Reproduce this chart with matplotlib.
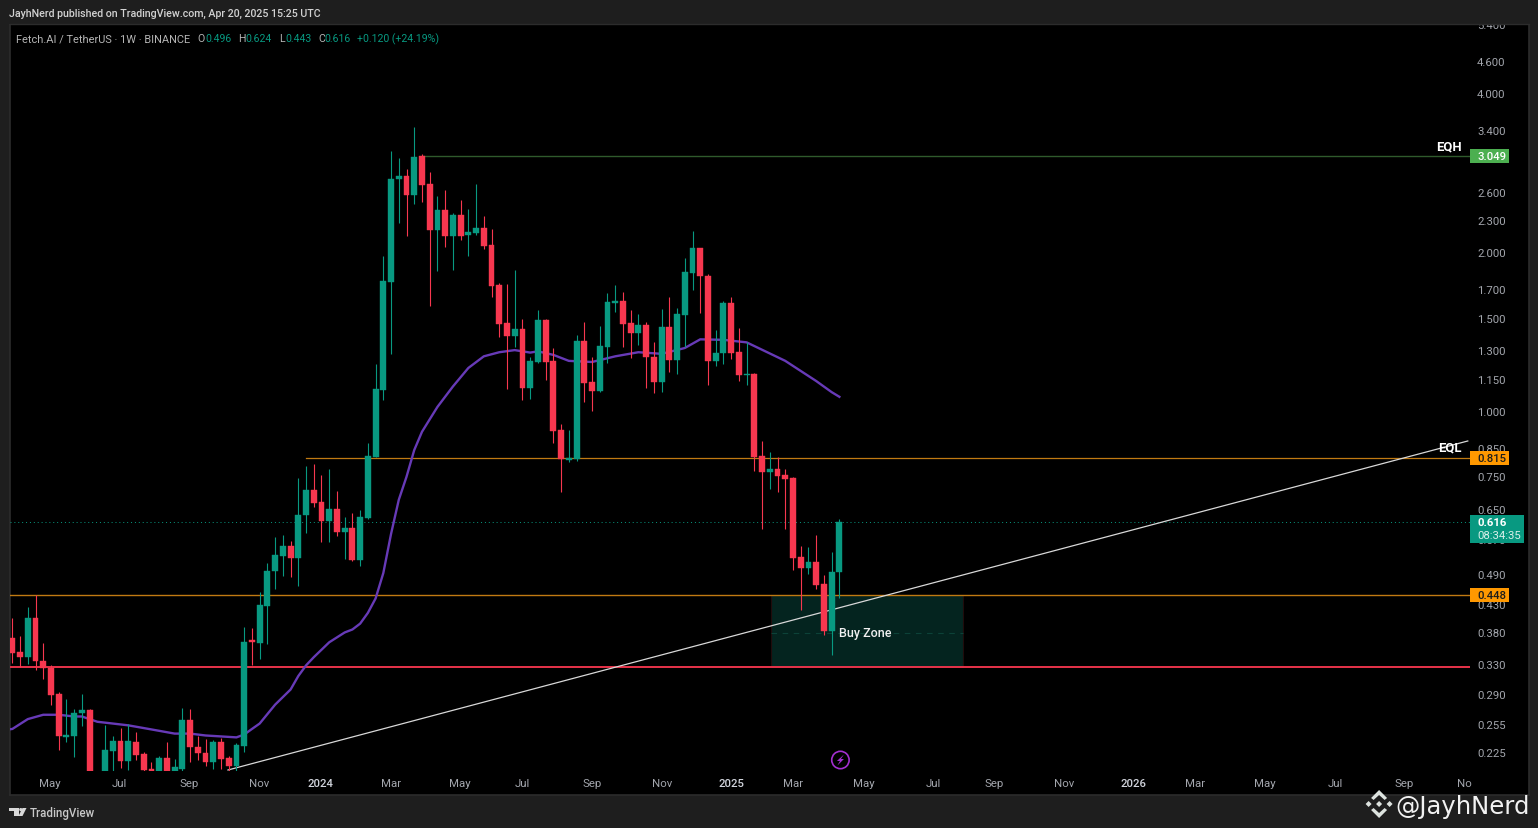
#!/usr/bin/env python3
"""Fetch.AI / TetherUS weekly chart, TradingView look."""

import matplotlib
matplotlib.use("Agg")
import matplotlib.pyplot as plt
from matplotlib.patches import Rectangle, Polygon, Circle
from matplotlib.ticker import NullLocator

plt.rcParams["font.family"] = ["Roboto", "DejaVu Sans"]

W, H = 1538, 828
BG = "#1e1e1e"
VERDE = "#089981"
VERMELHO = "#f7374f"
ROXO = "#673ab7"
CINZA = "#a3a6ad"

# weekly candles, oldest first
OPEN = [.372, .350, .343, .406, .336, .326, .291, .241, .242, .268,
        .272, .203, .204, .227, .237, .217, .236, .224, .210, .205,
        .220, .205, .210, .260, .231, .225, .216, .236, .220, .213,
        .232, .368, .364, .428, .499, .531, .556, .528, .635, .710,
        .674, .620, .654, .591, .601, .523, .628, .820, 1.098, 1.762,
        2.753, 2.800, 2.574, 3.049, 2.700, 2.212, 2.411, 2.152, 2.354, 2.161,
        2.184, 2.229, 2.071, 1.740, 1.470, 1.392, 1.432, 1.108, 1.241, 1.489,
        1.247, .922, .810, .812, 1.361, 1.137, 1.093, 1.326, 1.605, 1.617,
        1.472, 1.408, 1.458, 1.269, 1.137, 1.443, 1.252, 1.526, 1.830, 2.044,
        1.808, 1.247, 1.291, 1.605, 1.297, 1.170, 1.175, .823, .768, .779,
        .758, .748, .530, .505, .518, .470, .384, .496]
HIGH = [.405, .375, .426, .448, .364, .330, .294, .285, .273, .291,
        .273, .205, .254, .242, .251, .256, .247, .226, .216, .222,
        .236, .219, .274, .273, .242, .239, .238, .240, .222, .235,
        .390, .388, .454, .516, .579, .584, .568, .748, .789, .796,
        .758, .778, .707, .631, .642, .651, .872, 1.230, 1.972, 3.119,
        3.025, 2.880, 3.460, 3.078, 2.846, 2.563, 2.631, 2.383, 2.518, 2.421,
        2.703, 2.346, 2.219, 1.751, 1.745, 1.855, 1.495, 1.266, 1.556, 1.495,
        1.318, .946, .922, 1.396, 1.476, 1.266, 1.449, 1.676, 1.737, 1.683,
        1.558, 1.532, 1.476, 1.355, 1.567, 1.649, 1.570, 1.955, 2.194, 2.044,
        1.824, 1.428, 1.622, 1.651, 1.441, 1.352, 1.184, .879, .838, .820,
        .779, .752, .556, .553, .584, .490, .542, .624]
LOW = [.333, .328, .332, .324, .311, .277, .228, .236, .221, .253,
       .198, .195, .198, .208, .211, .209, .218, .208, .204, .200,
       .200, .200, .207, .216, .218, .213, .210, .210, .208, .208,
       .226, .331, .339, .362, .460, .488, .485, .467, .588, .659,
       .566, .566, .581, .525, .521, .510, .625, .818, 1.049, 1.287,
       2.275, 2.152, 2.477, 2.493, 1.587, 1.849, 2.054, 1.857, 2.115, 1.975,
       2.161, 2.033, 1.651, 1.386, 1.103, 1.323, 1.052, 1.058, 1.237, 1.147,
       .870, .702, .801, .804, 1.044, 1.004, 1.088, 1.237, 1.545, 1.326,
       1.263, 1.337, 1.106, 1.086, 1.090, 1.187, 1.175, 1.326, 1.702, 1.538,
       1.121, 1.220, 1.230, 1.256, 1.142, 1.122, .772, .599, .713, .705,
       .599, .501, .421, .491, .461, .376, .345, .443]
CLOSE = [.349, .343, .406, .336, .326, .290, .242, .243, .268, .272,
         .205, .198, .228, .237, .217, .237, .223, .209, .207, .220,
         .205, .212, .260, .231, .225, .216, .236, .219, .213, .233,
         .366, .365, .429, .499, .534, .556, .528, .637, .709, .671,
         .620, .654, .591, .601, .523, .631, .823, 1.103, 1.767, 2.760,
         2.800, 2.574, 3.042, 2.692, 2.212, 2.411, 2.152, 2.354, 2.152, 2.189,
         2.229, 2.062, 1.732, 1.467, 1.392, 1.432, 1.108, 1.247, 1.489, 1.243,
         .919, .812, .816, 1.361, 1.134, 1.093, 1.332, 1.610, 1.617, 1.467,
         1.411, 1.458, 1.268, 1.137, 1.443, 1.252, 1.532, 1.836, 2.044, 1.804,
         1.247, 1.291, 1.605, 1.291, 1.170, 1.180, .820, .768, .778, .756,
         .745, .528, .505, .518, .468, .384, .496, .616]

# moving average, read at these candle numbers
MA_IDX = [-1, 0, 2, 4, 6, 8, 9, 11, 13, 15, 17, 19, 21, 23, 25, 27, 29, 30, 31, 32,
          34, 36, 37, 38, 39, 41, 43, 44, 45, 46, 47, 48, 49, 50, 51, 52, 53, 55, 57,
          59, 61, 63, 65, 67, 68, 70, 72, 75, 78, 81, 84, 87, 89, 92, 95, 100, 104,
          106, 107]
MA_VAL = [.249, .250, .261, .266, .266, .264, .264, .258, .256, .254, .251, .248, .245,
          .245, .243, .242, .241, .244, .250, .256, .278, .297, .315, .330, .342, .365,
          .381, .386, .396, .415, .442, .494, .586, .680, .752, .845, .915, 1.020,
          1.115, 1.209, 1.272, 1.295, 1.307, 1.293, 1.300, 1.280, 1.247, 1.241, 1.272,
          1.295, 1.286, 1.319, 1.370, 1.367, 1.352, 1.247, 1.142, 1.088, 1.066]

Y_TICKS = [5.4, 4.6, 4.0, 3.4, 2.6, 2.3, 2.0, 1.7, 1.5, 1.3, 1.15, 1.0, .85, .75, .65,
           .57, .49, .43, .38, .33, .29, .255, .225]
X_TICKS = [4.9, 13.9, 22.9, 31.9, 39.9, 49.0, 57.9, 66.0, 75.0, 84.1, 93.0, 101.0,
           110.1, 119.1, 127.0, 136.1, 145.1, 153.0, 162.1, 171.2, 180.1, 187.8]
X_LABELS = ["May", "Jul", "Sep", "Nov", "2024", "Mar", "May", "Jul", "Sep", "Nov", "2025",
            "Mar", "May", "Jul", "Sep", "Nov", "2026", "Mar", "May", "Jul", "Sep", "No"]

EQH = 3.049
EQL = 0.815
SUPORTE = 0.448
FUNDO = 0.327
ULTIMO = 0.616
TREND_X = [27.9, 188.3]
TREND_Y = [0.209, 0.879]
ZONA_X = [98.15, 123.0]

# o +0.1 evita que o png saia com um pixel a menos
fig = plt.figure(figsize=((W + 0.1) / 100, (H + 0.1) / 100), dpi=100, facecolor=BG)


def rect_px(x0, y0, x1, y1):
    return [x0 / W, 1 - y1 / H, (x1 - x0) / W, (y1 - y0) / H]


painel = fig.add_axes(rect_px(10, 24, 1529, 795), facecolor="black", zorder=0)
painel.set_xticks([])
painel.set_yticks([])
for s in painel.spines.values():
    s.set_color("#2c2c2c")
    s.set_linewidth(1.2)

ax = fig.add_axes(rect_px(10, 25, 1470, 771), facecolor="none", zorder=1)
ax.set_yscale("log")
ax.set_xlim(-0.3, 188.6)
ax.set_ylim(0.2081, 5.406)
for s in ax.spines.values():
    s.set_visible(False)

# linhas e zona
ax.add_patch(Rectangle((ZONA_X[0], FUNDO), ZONA_X[1] - ZONA_X[0], SUPORTE - FUNDO,
                       facecolor="#04241f", edgecolor="#200c0c", lw=0.8, zorder=1))
ax.plot(ZONA_X, [0.38, 0.38], color="#0c4238", lw=0.8, ls=(0, (5, 5)), zorder=1.5)
ax.axhline(ULTIMO, color=VERDE, lw=0.7, ls=(0, (1, 3)), zorder=1.5)
ax.plot([53, 188.6], [EQH, EQH], color="#2f5a2c", lw=1.0, zorder=2)
ax.plot([38, 188.6], [EQL, EQL], color="#c07a12", lw=0.9, zorder=2)
ax.axhline(SUPORTE, color="#c07a12", lw=1.0, zorder=2)
ax.axhline(FUNDO, color="#e8334a", lw=1.4, zorder=2)
ax.plot(TREND_X, TREND_Y, color="#d8d8d8", lw=0.9, zorder=2.5)
ax.plot(MA_IDX, MA_VAL, color=ROXO, lw=1.7, zorder=2.5)

# candles
idx = list(range(len(OPEN)))
cores = [VERDE if c >= o else VERMELHO for o, c in zip(OPEN, CLOSE)]
ax.vlines(idx, LOW, HIGH, colors=cores, lw=0.8, zorder=3)
base = [min(o, c) for o, c in zip(OPEN, CLOSE)]
alt = [abs(c - o) for o, c in zip(OPEN, CLOSE)]
ax.bar(idx, alt, bottom=base, width=0.76, color=cores, edgecolor=cores, lw=0.3, zorder=3.5)

# eixos
ax.yaxis.tick_right()
ax.set_yticks(Y_TICKS, [f"{v:.3f}" for v in Y_TICKS])
ax.yaxis.set_minor_locator(NullLocator())
ax.tick_params(axis="y", which="major", length=0, pad=5, labelsize=8.2, labelcolor=CINZA)
ax.set_xticks(X_TICKS, X_LABELS)
ax.tick_params(axis="x", length=0, pad=6, labelsize=8.2, labelcolor=CINZA)
for lbl in ax.get_xticklabels():
    if lbl.get_text().startswith("20"):
        lbl.set_color("#d1d4dc")
        lbl.set_fontweight("medium")

# camada de cima, em pixels da imagem
top = fig.add_axes([0, 0, 1, 1], facecolor="none", zorder=2)
top.set_xlim(0, W)
top.set_ylim(H, 0)
top.axis("off")


def px(i):
    return ax.transData.transform((i, 1))[0]


def py(preco):
    return H - ax.transData.transform((0, preco))[1]


top.add_patch(Rectangle((0, 0), W, 24, facecolor=BG, edgecolor="none"))
top.plot([10, 1529], [24.5, 24.5], color="#2c2c2c", lw=1)


def etiqueta(preco, fundo, cor, largura=39):
    y = py(preco)
    top.add_patch(Rectangle((1470, y - 7), largura, 14, facecolor=fundo, edgecolor="none"))
    top.text(1477, y, f"{preco:.3f}", color=cor, fontsize=8.2, va="center_baseline", ha="left",
             fontweight="medium")


etiqueta(EQH, "#4caf50", "white")
etiqueta(EQL, "#ff9800", "#1c1c1c")
etiqueta(SUPORTE, "#ff9800", "#1c1c1c")

y_ult = py(ULTIMO)
top.add_patch(Rectangle((1470, y_ult - 7), 54, 28, facecolor=VERDE, edgecolor="none"))
top.text(1477, y_ult, f"{ULTIMO:.3f}", color="white", fontsize=8.2, fontweight="bold",
         va="center_baseline")
top.text(1477, y_ult + 13, "08:34:35", color="#d8efe9", fontsize=8.2, va="center_baseline")

top.text(1462, py(EQH) - 11, "EQH", color="white", fontsize=9.4, fontweight="bold",
         ha="right", va="center_baseline")
top.text(1462, py(EQL) - 12, "EQL", color="white", fontsize=9.4, fontweight="bold",
         ha="right", va="center_baseline")
top.text(px(107), py(0.38) - 1, "Buy Zone", color="#f0f0f0", fontsize=9, fontweight="medium",
         va="center_baseline")

# cabeçalho
top.text(9, 13, "JayhNerd published on TradingView.com, Apr 20, 2025 15:25 UTC",
         color="#d2d2d2", fontsize=7.7, fontweight="medium", va="center_baseline")
top.text(16, 38, "Fetch.AI / TetherUS · 1W · BINANCE", color="#b4b4b4", fontsize=7.9,
         va="center_baseline")
for x, t, cor in [(197, "O", "#b4b4b4"), (205, "0.496", VERDE), (238, "H", "#b4b4b4"),
                  (245, "0.624", VERDE), (279, "L", "#b4b4b4"), (285, "0.443", VERDE),
                  (318, "C", "#b4b4b4"), (324, "0.616", VERDE),
                  (357, "+0.120 (+24.19%)", VERDE)]:
    top.text(x, 38, t, color=cor, fontsize=7.6, va="center_baseline")

# ícone do raio
xi = px(107) + 1
top.add_patch(Circle((xi, 760), 8.7, facecolor="black", edgecolor="#a32fd0", lw=1.2))
top.add_patch(Polygon([(xi + 3.5, 754.5), (xi - 3.5, 761), (xi - 0.5, 761), (xi - 3, 765.5),
                       (xi + 3.5, 759), (xi + 0.5, 759)], facecolor="#a32fd0", edgecolor="none"))

# logo TradingView
LOGO = "#d8d8d8"
top.add_patch(Polygon([(9, 808), (19, 808), (19, 816), (14, 816), (14, 811), (9, 811)],
                      facecolor=LOGO, edgecolor="none"))
top.add_patch(Circle((20.8, 809.6), 1.6, facecolor=LOGO, edgecolor="none"))
top.add_patch(Polygon([(22.5, 808), (26.5, 808), (22.5, 816), (18.5, 816)],
                      facecolor=LOGO, edgecolor="none"))
top.text(30, 812, "TradingView", color="#c8c8c8", fontsize=8.3, fontweight="medium",
         va="center_baseline")

# marca d'água
MARCA = "#dde3df"
xm, ym = 1379, 804
top.add_patch(Polygon([(xm, ym - 3), (xm + 3, ym), (xm, ym + 3), (xm - 3, ym)], facecolor=MARCA, edgecolor="none"))
for dx in (-10.5, 10.5):
    top.add_patch(Polygon([(xm + dx, ym - 3), (xm + dx + 3, ym), (xm + dx, ym + 3), (xm + dx - 3, ym)],
                          facecolor=MARCA, edgecolor="none"))
for s in (-1, 1):
    top.add_patch(Polygon([(xm - 8, ym + s * 6), (xm, ym + s * 14), (xm + 8, ym + s * 6),
                           (xm + 5.5, ym + s * 4), (xm, ym + s * 9), (xm - 5.5, ym + s * 4)],
                          facecolor=MARCA, edgecolor="none"))
top.text(1530, 804, "@JayhNerd", color="#f2f2f2", fontsize=17.5, family="DejaVu Sans",
         ha="right", va="center_baseline")

fig.savefig("out.png", dpi=100, facecolor=BG)
plt.close(fig)
